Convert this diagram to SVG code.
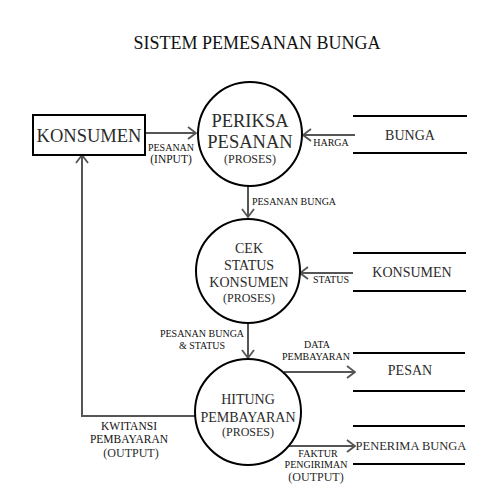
<svg xmlns="http://www.w3.org/2000/svg" width="500" height="500" viewBox="0 0 500 500" font-family="'Liberation Serif', 'Times New Roman', 'DejaVu Serif', serif">
<style>
text{font-family:'Liberation Serif','Times New Roman','DejaVu Serif',serif;fill:#2b2b2b;text-anchor:middle}
.t{font-size:18px;fill:#111}
.big{font-size:18.5px}
.md{font-size:14px}
.pr{font-size:12px}
.sm{font-size:10px;fill:#111}
.ml{font-size:11.5px;fill:#111}
.proc{fill:#fff;stroke:#000;stroke-width:2}
.store{stroke:#000;stroke-width:2.2}
.c{fill:none;stroke:#555;stroke-width:2;marker-end:url(#ah)}
</style>
<defs>
<marker id="ah" viewBox="0 0 10 14" refX="9" refY="7" markerWidth="10" markerHeight="14" markerUnits="userSpaceOnUse" orient="auto">
<path d="M1,1 L9,7 L1,13" fill="none" stroke="#555" stroke-width="1.8"/>
</marker>
</defs>
<rect width="500" height="500" fill="#fff"/>
<text class="t" x="257" y="49">SISTEM PEMESANAN BUNGA</text>

<g id="connectors">
<line class="c" x1="145" y1="133" x2="196" y2="133"/>
<line class="c" x1="355" y1="135" x2="303" y2="135"/>
<line class="c" x1="248" y1="186" x2="248" y2="217"/>
<line class="c" x1="353" y1="273" x2="300" y2="273"/>
<line class="c" x1="248" y1="324" x2="248" y2="358"/>
<polyline class="c" points="196,416 82,416 82,155"/>
<line class="c" x1="284" y1="372" x2="355" y2="372"/>
<line class="c" x1="288" y1="446" x2="355" y2="446"/>
<text class="sm" x="171" y="151">PESANAN</text>
<text class="ml" x="171" y="163">(INPUT)</text>
<text class="sm" x="331" y="146">HARGA</text>
<text class="sm" x="294" y="205">PESANAN BUNGA</text>
<text class="sm" x="331" y="283">STATUS</text>
<text class="sm" x="202" y="337">PESANAN BUNGA</text>
<text class="sm" x="202" y="349">&amp; STATUS</text>
<text class="sm" x="317" y="348">DATA</text>
<text class="sm" x="316" y="360">PEMBAYARAN</text>
<text class="ml" x="129" y="430">KWITANSI</text>
<text class="ml" x="129" y="443">PEMBAYARAN</text>
<text class="pr" x="131" y="457">(OUTPUT)</text>
<text class="sm" x="318" y="457">FAKTUR</text>
<text class="sm" x="316" y="468">PENGIRIMAN</text>
<text class="pr" x="316" y="481">(OUTPUT)</text>
</g>

<g id="konsumen-entity">
<rect x="33" y="115" width="112" height="40" fill="#fff" stroke="#000" stroke-width="2"/>
<text class="big" x="89" y="142">KONSUMEN</text>
</g>

<g id="periksa-pesanan">
<circle class="proc" cx="250" cy="134" r="52"/>
<text class="big" x="250" y="127">PERIKSA</text>
<text class="big" x="250" y="148">PESANAN</text>
<text class="pr" x="250" y="163">(PROSES)</text>
</g>

<g id="cek-status">
<circle class="proc" cx="248" cy="271" r="52"/>
<text class="md" x="249" y="253">CEK</text>
<text class="md" x="249" y="270">STATUS</text>
<text class="md" x="249" y="287">KONSUMEN</text>
<text class="pr" x="249" y="302">(PROSES)</text>
</g>

<g id="hitung-pembayaran">
<circle class="proc" cx="248" cy="412" r="53"/>
<text class="md" x="248" y="404">HITUNG</text>
<text class="md" x="248" y="422">PEMBAYARAN</text>
<text class="pr" x="248" y="436">(PROSES)</text>
</g>

<g id="store-bunga">
<line class="store" x1="353" y1="116" x2="467" y2="116"/>
<line class="store" x1="353" y1="153" x2="467" y2="153"/>
<text class="md" x="410" y="140">BUNGA</text>
</g>

<g id="store-konsumen">
<line class="store" x1="353" y1="253" x2="466" y2="253"/>
<line class="store" x1="353" y1="291" x2="466" y2="291"/>
<text class="md" x="412" y="277">KONSUMEN</text>
</g>

<g id="store-pesan">
<line class="store" x1="353" y1="353" x2="465" y2="353"/>
<line class="store" x1="353" y1="391" x2="465" y2="391"/>
<text class="md" x="410" y="375">PESAN</text>
</g>

<g id="store-penerima">
<line class="store" x1="353" y1="426" x2="465" y2="426"/>
<line class="store" x1="353" y1="464" x2="465" y2="464"/>
<text x="411" y="450" style="font-size:12.5px">PENERIMA BUNGA</text>
</g>
</svg>
